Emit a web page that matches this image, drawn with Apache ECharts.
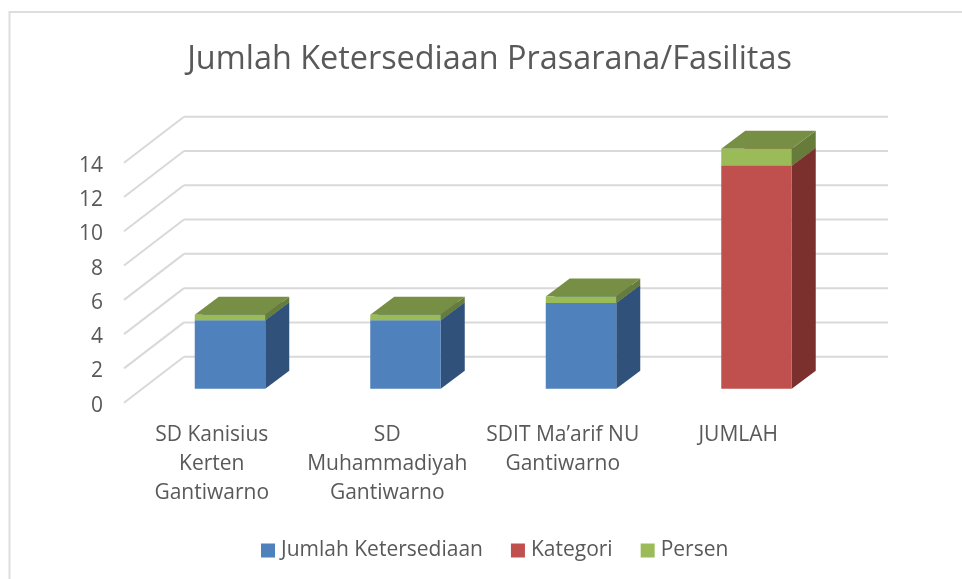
<!DOCTYPE html>
<html><head><meta charset="utf-8">
<style>html,body{margin:0;padding:0;background:#fff}#c{width:962px;height:579px}</style>
<script src="https://cdn.jsdelivr.net/npm/echarts@6/dist/echarts.min.js"></script>
</head><body><div id="c"></div>
<script>
var categories = ['SD Kanisius\nKerten\nGantiwarno', 'SD\nMuhammadiyah\nGantiwarno', 'SDIT Ma\u2019arif NU\nGantiwarno', 'JUMLAH'];
var jumlahKetersediaan = [4, 4, 5, 0];
var kategori = [0, 0, 0, 13];
var persen = [0.31, 0.31, 0.38, 1];
var yTicks = [0, 2, 4, 6, 8, 10, 12, 14];

var FONT = '"Open Sans", sans-serif';
var TEXT = '#595959';
var DEPTH = [60, -46];      // floor depth of the 3D wall
var BAR_DEPTH = [24, -18];  // depth of each column
var BAR_W = 70.5;
var INSET = [18.25, -14];   // column offset from the front edge of the floor
var WALL_EXTRA = 2;

function stackRender(colors) {
  return function (params, api) {
    var i = api.value(0), base = api.value(1), top = api.value(2);
    if (top <= base) return null;
    var a = api.coord([i, base]), b = api.coord([i, top]);
    var x0 = a[0] + INSET[0] - BAR_W / 2, x1 = x0 + BAR_W;
    var y0 = a[1] + INSET[1], y1 = b[1] + INSET[1];
    var dx = BAR_DEPTH[0], dy = BAR_DEPTH[1];
    return { type: 'group', children: [
      { type: 'polygon', shape: { points: [[x1, y0], [x1 + dx, y0 + dy], [x1 + dx, y1 + dy], [x1, y1]] },
        style: { fill: colors.side } },
      { type: 'polygon', shape: { points: [[x0, y1], [x1, y1], [x1 + dx, y1 + dy], [x0 + dx, y1 + dy]] },
        style: { fill: colors.top } },
      { type: 'rect', shape: { x: x0, y: y1, width: BAR_W, height: y0 - y1 },
        style: { fill: colors.front } }
    ] };
  };
}

function stackData(values, bases) {
  return values.map(function (v, i) { return [i, bases[i], bases[i] + v]; });
}
var zero = categories.map(function () { return 0; });
var base2 = jumlahKetersediaan.map(function (v, i) { return v + kategori[i]; });

var BLUE = { front: '#4F81BD', side: '#30527A', top: '#3E6797' };
var RED = { front: '#C0504D', side: '#7B302E', top: '#9A403E' };
var GREEN = { front: '#9BBB59', side: '#677C3A', top: '#778F44' };

var chart = echarts.init(document.getElementById('c'), null, { renderer: 'canvas' });
chart.setOption({
  animation: false,
  backgroundColor: '#fff',
  graphic: [{
    type: 'polyline', silent: true, z: 0,
    shape: { points: [[9.5, 579], [9.5, 12], [962, 12]] },
    style: { stroke: '#DDDDDD', lineWidth: 2, fill: null }
  }],
  title: {
    text: 'Jumlah Ketersediaan Prasarana/Fasilitas',
    left: 484.5, top: 39, textAlign: 'center',
    textStyle: { fontFamily: FONT, fontSize: 32.4, fontWeight: 'normal', color: TEXT }
  },
  legend: {
    left: 256, top: 535, icon: 'rect', itemWidth: 14, itemHeight: 14, itemGap: 28,
    textStyle: { fontFamily: FONT, fontSize: 21, color: TEXT, padding: [0, 0, 0, 1] },
    data: ['Jumlah Ketersediaan', 'Kategori', 'Persen']
  },
  grid: { left: 124, top: 162.7, width: 702, height: 240 },
  xAxis: {
    type: 'category', data: categories,
    axisLine: { show: false }, axisTick: { show: false }, splitLine: { show: false },
    axisLabel: { fontFamily: FONT, fontSize: 21, color: TEXT, lineHeight: 29, margin: 18, interval: 0 }
  },
  yAxis: {
    type: 'value', min: 0, max: 14, interval: 2,
    axisLine: { show: false }, axisTick: { show: false }, splitLine: { show: false },
    axisLabel: { fontFamily: FONT, fontSize: 21, color: TEXT, margin: 21, verticalAlign: 'top', lineHeight: 6 }
  },
  series: [
    {
      type: 'custom', name: 'walls', silent: true, clip: false, z: 1,
      coordinateSystem: 'cartesian2d',
      data: yTicks.map(function (t) { return [0, t]; }),
      renderItem: function (params, api) {
        var p = api.coord([0, api.value(1)]);
        var left = params.coordSys.x, w = params.coordSys.width + WALL_EXTRA;
        var st = { stroke: '#D9D9D9', lineWidth: 2, fill: null };
        return { type: 'group', children: [
          { type: 'line', shape: { x1: left, y1: p[1], x2: left + DEPTH[0], y2: p[1] + DEPTH[1] }, style: st },
          { type: 'line', shape: { x1: left + DEPTH[0], y1: p[1] + DEPTH[1], x2: left + DEPTH[0] + w, y2: p[1] + DEPTH[1] }, style: st }
        ] };
      }
    },
    { type: 'custom', name: 'Jumlah Ketersediaan', clip: false, z: 2, coordinateSystem: 'cartesian2d',
      itemStyle: { color: BLUE.front }, data: stackData(jumlahKetersediaan, zero), renderItem: stackRender(BLUE) },
    { type: 'custom', name: 'Kategori', clip: false, z: 3, coordinateSystem: 'cartesian2d',
      itemStyle: { color: RED.front }, data: stackData(kategori, jumlahKetersediaan), renderItem: stackRender(RED) },
    { type: 'custom', name: 'Persen', clip: false, z: 4, coordinateSystem: 'cartesian2d',
      itemStyle: { color: GREEN.front }, data: stackData(persen, base2), renderItem: stackRender(GREEN) }
  ]
});
</script></body></html>
